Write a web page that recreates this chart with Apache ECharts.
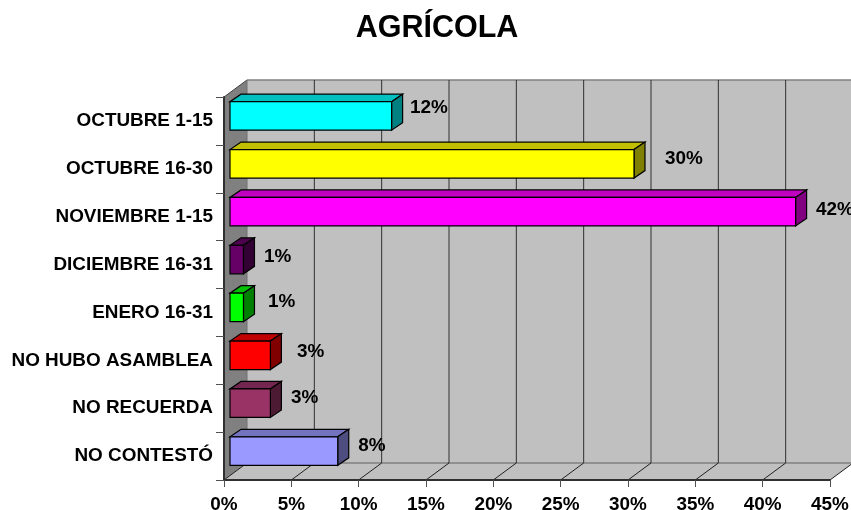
<!DOCTYPE html>
<html>
<head>
<meta charset="utf-8">
<style>html,body{margin:0;padding:0;background:#fff}#c{width:851px;height:510px}</style>
<script src="https://cdn.jsdelivr.net/npm/echarts@6/dist/echarts.min.js"></script>
</head>
<body>
<div id="c"></div>
<script>
const titleText = 'AGRÍCOLA';
const categories = ['OCTUBRE 1-15','OCTUBRE 16-30','NOVIEMBRE 1-15','DICIEMBRE 16-31','ENERO 16-31','NO HUBO ASAMBLEA','NO RECUERDA','NO CONTESTÓ'];
const values = [12,30,42,1,1,3,3,8];
const valueTicks = [0,5,10,15,20,25,30,35,40,45];

const faceColors = ['#00FFFF','#FFFF00','#FF00FF','#660066','#00FF00','#FF0000','#993366','#9999FF'];
const topColors  = ['#00C0C0','#C0C000','#C000C0','#4D004D','#00C000','#C00000','#732650','#7373C0'];
const sideColors = ['#008080','#808000','#800080','#330033','#008000','#800000','#4D1A33','#4D4D80'];
const labelOffsets = [[18.5,-8],[31,-5],[20.5,-2],[20.5,-3],[24.5,-5.5],[26.5,-3.5],[20.5,-5],[20.5,-5]];

const FONT = '"Liberation Sans", Arial, sans-serif';
const wallDepth = [23,-17];
const barInset = [6,-5];
const barDepth = [11,-7.5];
const barHeight = 28.5;

function poly(points, fill, stroke, lw){
  return {type:'polygon', shape:{points}, style:{fill, stroke:stroke||'none', lineWidth:lw||0}};
}
function line(a,b,color,w){
  return {type:'line', shape:{x1:a[0],y1:a[1],x2:b[0],y2:b[1]}, style:{stroke:color,lineWidth:w,fill:'none'}};
}

function renderWalls(params, api){
  const cs = params.coordSys;
  const L = cs.x, R = cs.x+cs.width, T = cs.y, B = cs.y+cs.height;
  const dx = wallDepth[0], dy = wallDepth[1];
  const children = [
    poly([[L+dx,T+dy],[R+dx,T+dy],[R+dx,B+dy],[L+dx,B+dy]],'#C0C0C0'),
    poly([[L,T],[L+dx,T+dy],[L+dx,B+dy],[L,B]],'#808080'),
    poly([[L,B],[L+dx,B+dy],[R+dx,B+dy],[R,B]],'#C0C0C0'),
    line([L,T],[L+dx,T+dy],'#404040',1),
    line([L+dx,T+dy],[R+dx,T+dy],'#808080',1.5),
    line([L+dx,B+dy],[R+dx,B+dy],'#808080',1.5)
  ];
  valueTicks.forEach(function(t){
    const x = api.coord([t,categories[0]])[0];
    children.push(line([x,B],[x+dx,B+dy],'#202020',1));
    children.push(line([x+dx,T+dy],[x+dx,B+dy],t===0?'#707070':'#303030',1));
  });
  return {type:'group',children};
}

function renderBar(params, api){
  const i = params.dataIndex;
  const base = api.coord([0,api.value(1)]);
  const end = api.coord([api.value(0),api.value(1)]);
  const x0 = base[0]+barInset[0], x1 = end[0]+barInset[0];
  const yc = base[1]+barInset[1];
  const y0 = yc-barHeight/2, y1 = yc+barHeight/2;
  const dx = barDepth[0], dy = barDepth[1];
  return {type:'group',children:[
    poly([[x0,y0],[x1,y0],[x1+dx,y0+dy],[x0+dx,y0+dy]],topColors[i],'#000',1.2),
    poly([[x1,y0],[x1+dx,y0+dy],[x1+dx,y1+dy],[x1,y1]],sideColors[i],'#000',1.2),
    poly([[x0,y0],[x1,y0],[x1,y1],[x0,y1]],faceColors[i],'#000',1.2),
    {type:'text',style:{text:values[i]+'%',x:x1+labelOffsets[i][0],y:yc+labelOffsets[i][1],
      align:'left',verticalAlign:'middle',fill:'#000',font:'bold 18.9px '+FONT}}
  ]};
}

const chart = echarts.init(document.getElementById('c'),null,{renderer:'canvas'});
chart.setOption({
  animation:false,
  backgroundColor:'#fff',
  title:{text:titleText,left:432,top:8,textAlign:'center',
    textStyle:{fontFamily:FONT,fontWeight:'bold',fontSize:30.5,color:'#000'}},
  grid:{left:224,top:97,width:606,height:383,containLabel:false,outerBoundsMode:'none'},
  xAxis:{type:'value',min:0,max:45,interval:5,z:2,
    axisLine:{show:true,lineStyle:{color:'#303030',width:2}},
    axisTick:{show:true,length:7,lineStyle:{color:'#505050',width:1}},
    splitLine:{show:false},
    axisLabel:{formatter:'{value}%',margin:15,fontFamily:FONT,fontWeight:'bold',fontSize:18.9,color:'#000',hideOverlap:false,showMinLabel:true,showMaxLabel:true}},
  yAxis:{type:'category',inverse:true,data:categories,z:2,
    axisLine:{show:true,lineStyle:{color:'#303030',width:2}},
    axisTick:{show:true,length:8,lineStyle:{color:'#505050',width:1}},
    axisLabel:{margin:11,padding:[4,0,0,0],fontFamily:FONT,fontWeight:'bold',fontSize:18.9,color:'#000',interval:0}},
  series:[
    {type:'custom',name:'walls',z:1,clip:false,silent:true,coordinateSystem:'cartesian2d',
      data:[[0,categories[0]]],encode:{x:0,y:1},renderItem:renderWalls},
    {type:'custom',name:'AGRÍCOLA',z:3,clip:false,coordinateSystem:'cartesian2d',
      data:values.map(function(v,i){return [v,i];}),encode:{x:0,y:1},renderItem:renderBar}
  ]
});
</script>
</body>
</html>
